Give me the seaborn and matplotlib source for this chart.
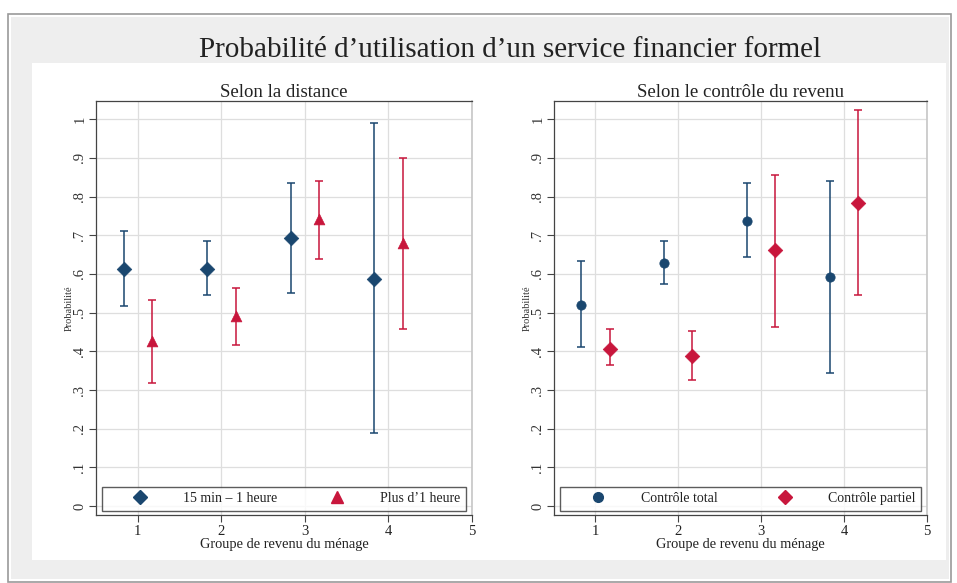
import matplotlib
matplotlib.use("Agg")
import matplotlib.pyplot as plt
from matplotlib.patches import Rectangle
from matplotlib.lines import Line2D
import seaborn as sns
import numpy as np

# groupes de revenu
groupes = np.array([1, 2, 3, 4])

# Selon la distance
proche_pt = [0.614, 0.614, 0.693, 0.588]
proche_lo = [0.518, 0.545, 0.551, 0.188]
proche_hi = [0.712, 0.686, 0.835, 0.989]
loin_pt = [0.426, 0.491, 0.741, 0.681]
loin_lo = [0.317, 0.416, 0.638, 0.457]
loin_hi = [0.532, 0.564, 0.841, 0.900]

# Selon le controle du revenu
total_pt = [0.521, 0.629, 0.738, 0.591]
total_lo = [0.412, 0.574, 0.644, 0.344]
total_hi = [0.633, 0.685, 0.834, 0.841]
partiel_pt = [0.407, 0.388, 0.661, 0.783]
partiel_lo = [0.364, 0.326, 0.462, 0.545]
partiel_hi = [0.457, 0.453, 0.857, 1.025]

yticks = [0, .1, .2, .3, .4, .5, .6, .7, .8, .9, 1]
ytick_labels = ["0", ".1", ".2", ".3", ".4", ".5", ".6", ".7", ".8", ".9", "1"]

sns.set_theme(style="white")
plt.rcParams['font.family'] = ['Liberation Serif', 'DejaVu Serif']

BLEU = '#1a476f'
ROUGE = '#c8163c'
W, H = 957, 583

fig = plt.figure(figsize=(W / 100, H / 100), dpi=100)


def rect(x0, y0, x1, y1, **kw):
    # coordonnees en pixels (origine en haut a gauche)
    r = Rectangle((x0 / W, 1 - y1 / H), (x1 - x0) / W, (y1 - y0) / H,
                  transform=fig.transFigure, **kw)
    fig.add_artist(r)


# cadre du graphique
rect(8, 14, 951, 582, facecolor='white', edgecolor='#9a9a9a', linewidth=1.2, zorder=-10)
rect(11, 17, 949, 579, facecolor='#eeeeee', edgecolor='none', zorder=-9)
rect(32, 63, 946, 560, facecolor='white', edgecolor='none', zorder=-8)

fig.text(0.533, 1 - 50 / H, "Probabilité d\u2019utilisation d\u2019un service financier formel",
         ha='center', va='center', fontsize=21, color='#222222')

ax1 = fig.add_axes([96 / W, 1 - 515 / H, 376 / W, 414 / H])
ax2 = fig.add_axes([554 / W, 1 - 515 / H, 373 / W, 414 / H])


def panneau(ax, titre, series):
    for x, pt, lo, hi, col, mk, s in series:
        pt = np.array(pt)
        ax.errorbar(x, pt, yerr=[pt - np.array(lo), np.array(hi) - pt], fmt='none',
                    ecolor=col, elinewidth=1.1, capsize=3, capthick=1.1, zorder=2)
        sns.scatterplot(x=x, y=pt, marker=mk, s=s, color=col, edgecolor=col,
                        linewidth=0.5, ax=ax, zorder=3)
    ax.set_xlim(0.5, 5)
    ax.set_ylim(-0.023, 1.047)
    ax.set_xticks([1, 2, 3, 4, 5])
    ax.set_xticklabels(["1", "2", "3", "4", "5"], fontsize=10.5, color='#222222')
    ax.set_yticks(yticks)
    ax.set_yticklabels(ytick_labels, fontsize=10.5, color='#333333', rotation=90, va='center')
    ax.grid(True, color='#dedede', linewidth=0.9)
    ax.set_axisbelow(True)
    ax.tick_params(axis='both', which='major', length=5, width=0.8, color='#444444',
                   bottom=True, left=True, pad=2)
    for side in ['left', 'bottom', 'top']:
        ax.spines[side].set_color('#444444')
        ax.spines[side].set_linewidth(0.9)
    ax.spines['right'].set_color('#c8c8c8')
    ax.set_title(titre, fontsize=13.5, color='#222222', pad=3)
    ax.set_xlabel("Groupe de revenu du ménage", fontsize=10.4, color='#222222', labelpad=0.5)
    ax.set_ylabel("Probabilité", fontsize=7.5, color='#333333', labelpad=0)


off = 0.17
panneau(ax1, "Selon la distance", [
    (groupes - off, proche_pt, proche_lo, proche_hi, BLEU, 'D', 55),
    (groupes + off, loin_pt, loin_lo, loin_hi, ROUGE, '^', 60),
])
panneau(ax2, "Selon le contrôle du revenu", [
    (groupes - off, total_pt, total_lo, total_hi, BLEU, 'o', 45),
    (groupes + off, partiel_pt, partiel_lo, partiel_hi, ROUGE, 'D', 55),
])


def legende(ax, entrees):
    handles = [Line2D([], [], linestyle='none', marker=m, markersize=ms, color=c, label=l)
               for l, m, c, ms in entrees]
    leg = ax.legend(handles=handles, ncol=2, loc='lower left', mode='expand',
                    bbox_to_anchor=(0.015, 0.01, 0.968, 0.068), fontsize=10,
                    frameon=True, fancybox=False, handlelength=4.7, handletextpad=0.75,
                    borderaxespad=0, borderpad=0.4, columnspacing=1.0)
    leg.get_frame().set_edgecolor('#333333')
    leg.get_frame().set_linewidth(1.0)
    for t in leg.get_texts():
        t.set_color('#222222')


legende(ax1, [("15 min \u2013 1 heure", 'D', BLEU, 7.5), ("Plus d\u20191 heure", '^', ROUGE, 8)])
legende(ax2, [("Contrôle total", 'o', BLEU, 7), ("Contrôle partiel", 'D', ROUGE, 7.5)])

fig.savefig("out.png", dpi=100)
